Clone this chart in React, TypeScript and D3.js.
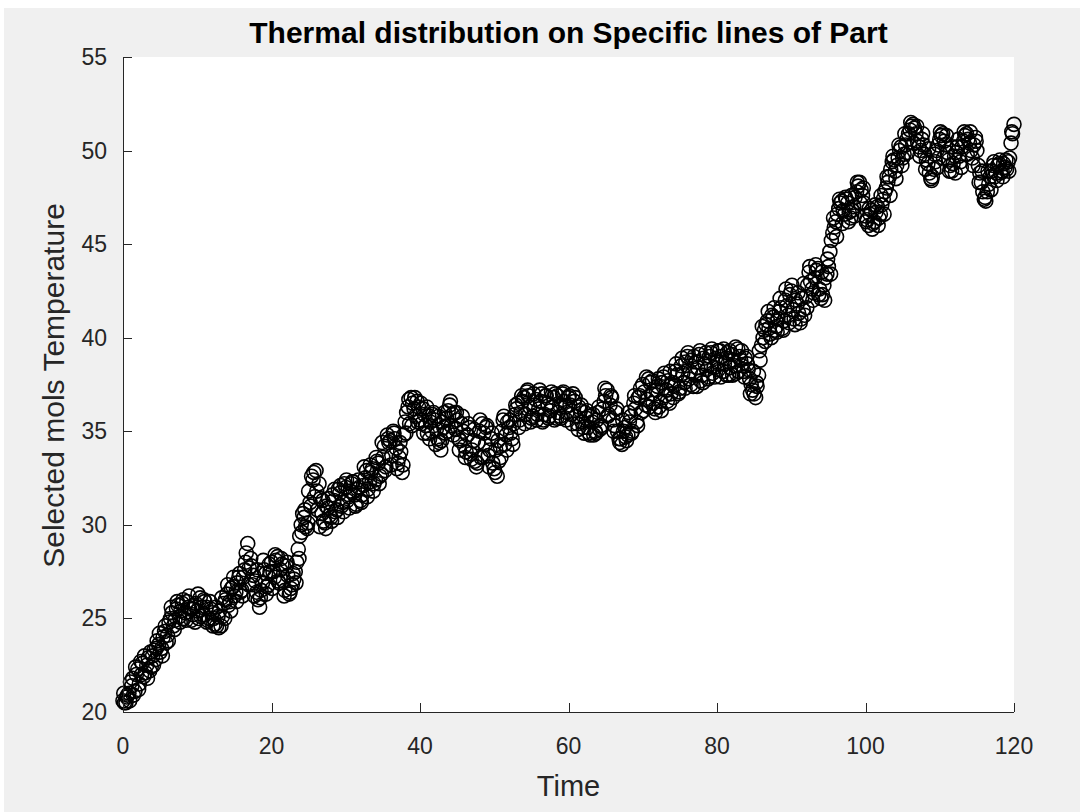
import React from "react";
import * as d3 from "d3";

// Sampling: each line is sampled every 0.4 s, the lines are staggered in time
const timeStep = 0.4;
const lineAStart = 0;
const lineBStart = 0.2;
const lineCStart = 0.1;

// Line A temperatures, grouped by 20-second segments
const lineA0to20 = [
  20.6, 20.5, 21.0, 21.4, 21.1, 22.3, 22.7, 21.9, 22.5, 22.2,
  23.0, 22.8, 23.6, 23.4, 24.3, 24.1, 25.0, 24.6, 25.5, 25.1,
  25.8, 25.3, 25.6, 24.9, 25.7, 25.4, 26.1, 25.2, 25.6, 25.0,
  25.3, 24.7, 25.1, 24.6, 25.8, 26.3, 25.9, 26.7, 26.4, 27.2,
  26.5, 27.6, 29.0, 28.2, 27.3, 26.4, 25.6, 26.9, 27.4, 26.8,
];
const lineA20to40 = [
  28.0, 27.2, 28.3, 27.6, 27.0, 27.8, 26.3, 26.8, 27.5, 28.7,
  30.0, 30.4, 29.8, 31.2, 32.4, 32.9, 32.2, 30.6, 30.1, 30.9,
  30.4, 31.3, 30.8, 31.7, 31.2, 32.0, 31.5, 32.2, 31.6, 31.9,
  31.3, 32.1, 32.9, 32.3, 33.0, 32.4, 33.3, 32.7, 34.2, 34.8,
  34.5, 35.0, 34.1, 33.6, 32.8, 35.5, 36.3, 36.8, 36.2, 36.6,
];
const lineA40to60 = [
  35.6, 36.2, 35.3, 35.8, 35.0, 35.6, 34.6, 34.0, 35.2, 35.7,
  36.4, 35.9, 35.1, 34.6, 35.4, 34.2, 34.8, 33.8, 34.5, 33.1,
  35.0, 35.4, 34.3, 33.7, 34.6, 33.0, 32.6, 34.2, 35.6, 34.8,
  35.2, 34.6, 35.9, 36.5, 36.0, 36.8, 37.1, 36.3, 35.8, 36.7,
  36.2, 37.0, 35.9, 36.5, 36.1, 36.8, 35.7, 36.4, 37.0, 36.3,
];
const lineA60to80 = [
  36.8, 35.9, 36.6, 35.4, 36.1, 35.2, 35.7, 34.9, 35.5, 35.0,
  36.0, 35.3, 36.6, 37.2, 36.4, 35.6, 36.0, 34.6, 34.3, 35.2,
  34.8, 35.8, 36.5, 35.5, 36.9, 37.5, 36.4, 37.8, 37.0, 36.2,
  37.4, 36.6, 37.9, 37.2, 36.5, 37.6, 38.2, 37.0, 38.5, 37.6,
  39.0, 38.2, 37.4, 38.7, 39.1, 38.0, 38.6, 37.8, 39.2, 38.4,
];
const lineA80to100 = [
  38.7, 39.3, 38.2, 38.9, 38.0, 39.1, 38.5, 39.4, 38.8, 38.2,
  39.0, 37.8, 37.2, 36.8, 38.0, 39.6, 40.4, 40.9, 40.2, 41.1,
  40.6, 41.4, 40.5, 42.0, 41.2, 42.5, 41.0, 41.8, 40.8, 41.5,
  42.2, 43.5, 42.6, 43.2, 43.7, 42.1, 42.8, 43.4, 44.6, 45.6,
  46.2, 46.9, 47.3, 46.6, 47.2, 46.4, 47.0, 47.8, 48.3, 47.6,
];
const lineA100to120 = [
  46.5, 46.0, 46.8, 46.2, 47.0, 46.6, 47.4, 48.0, 48.6, 49.4,
  48.9, 49.6, 50.2, 49.8, 50.6, 51.1, 51.4, 50.9, 50.2, 50.6,
  49.8, 49.3, 48.5, 49.0, 50.0, 50.6, 50.9, 50.3, 49.5, 48.9,
  49.7, 50.2, 49.4, 50.5, 50.9, 50.4, 49.6, 50.7, 49.2, 48.3,
  47.4, 47.8, 48.6, 49.2, 48.8, 49.3, 48.9, 49.1, 49.4, 50.4,
  51.4,
];

// Line B temperatures
const lineB0to20 = [
  20.5, 20.9, 21.6, 20.9, 22.0, 21.5, 22.6, 22.1, 22.9, 22.4,
  23.3, 23.8, 23.2, 24.0, 23.7, 24.8, 25.3, 24.9, 25.7, 25.4,
  25.0, 25.9, 25.5, 25.2, 25.8, 25.0, 25.6, 25.9, 24.9, 25.5,
  25.0, 24.6, 25.4, 25.1, 26.0, 25.7, 26.6, 26.2, 26.9, 26.4,
  27.2, 28.5, 27.7, 26.8, 27.0, 26.0, 26.5, 27.6, 26.7, 27.5,
];
const lineB20to40 = [
  27.5, 28.1, 26.9, 27.9, 26.5, 27.3, 26.6, 27.1, 28.0, 29.4,
  30.6, 29.9, 31.8, 32.6, 31.5, 30.8, 31.4, 30.2, 31.0, 30.5,
  31.6, 30.7, 31.9, 31.0, 32.2, 31.3, 31.8, 32.3, 31.1, 32.0,
  31.6, 32.5, 31.9, 32.8, 32.2, 33.4, 32.6, 33.6, 33.1, 34.4,
  33.7, 34.6, 33.3, 33.9, 34.8, 36.0, 35.4, 36.5, 35.8, 36.3,
];
const lineB40to60 = [
  35.4, 35.9, 34.9, 35.5, 36.0, 35.1, 34.4, 35.5, 34.9, 36.1,
  35.3, 36.0, 35.6, 34.5, 35.0, 33.9, 35.2, 34.0, 33.4, 34.4,
  33.6, 34.9, 35.3, 34.0, 33.3, 34.0, 33.4, 35.0, 34.3, 35.5,
  34.9, 35.4, 36.2, 35.6, 36.6, 35.9, 36.9, 35.7, 36.4, 35.9,
  36.6, 35.6, 36.9, 35.8, 36.3, 37.0, 36.0, 35.7, 36.6, 36.0,
];
const lineB60to80 = [
  36.4, 37.0, 35.8, 36.3, 35.5, 36.0, 35.2, 35.8, 34.8, 35.6,
  35.1, 36.2, 36.9, 35.9, 36.8, 35.3, 35.0, 34.6, 35.0, 34.5,
  35.5, 35.0, 36.2, 36.8, 36.0, 37.1, 36.7, 37.6, 36.5, 37.2,
  36.3, 37.6, 36.9, 37.7, 37.0, 37.4, 38.0, 37.3, 38.1, 38.7,
  37.8, 38.8, 38.0, 38.4, 37.7, 38.9, 38.3, 39.0, 38.1, 38.9,
];
const lineB80to100 = [
  38.3, 39.0, 38.6, 39.2, 38.4, 38.8, 38.1, 39.0, 38.5, 38.9,
  38.3, 37.5, 37.0, 37.4, 38.8, 40.0, 40.7, 40.5, 41.2, 40.4,
  41.0, 41.6, 40.9, 41.7, 42.3, 41.5, 42.0, 41.3, 42.1, 41.2,
  42.8, 43.0, 42.4, 43.6, 42.6, 42.3, 43.2, 43.8, 45.2, 45.9,
  46.6, 47.2, 46.8, 47.4, 46.7, 46.8, 47.5, 48.1, 47.9, 47.2,
];
const lineB100to120 = [
  46.3, 46.6, 46.1, 46.7, 46.4, 47.1, 47.8, 48.3, 49.0, 49.5,
  49.2, 50.0, 49.6, 50.3, 50.9, 51.3, 51.2, 50.5, 50.0, 50.3,
  49.5, 48.8, 48.6, 49.4, 50.3, 50.8, 50.5, 49.9, 49.2, 49.3,
  49.9, 49.7, 50.2, 50.8, 50.6, 50.0, 50.3, 50.0, 48.8, 47.8,
  47.3, 48.2, 48.9, 48.6, 49.2, 48.8, 49.3, 49.0, 49.6, 50.9,
];

// Line C temperatures
const lineC0to20 = [
  21.0, 20.8, 20.6, 21.8, 22.4, 21.2, 22.0, 23.0, 21.8, 23.2,
  22.5, 23.4, 24.2, 23.0, 24.6, 23.8, 25.6, 24.4, 25.9, 24.8,
  26.0, 24.9, 26.2, 25.5, 24.8, 26.3, 25.1, 26.0, 24.8, 25.9,
  24.6, 25.6, 24.5, 26.1, 25.0, 26.8, 25.4, 27.2, 25.9, 27.4,
  26.2, 28.0, 26.8, 27.8, 26.2, 27.6, 26.1, 28.1, 26.3, 27.9,
];
const lineC20to40 = [
  26.6, 28.4, 27.0, 28.2, 26.2, 28.0, 26.4, 27.4, 26.9, 28.2,
  29.6, 30.8, 30.1, 31.0, 32.8, 31.8, 29.9, 31.3, 29.8, 31.4,
  30.2, 31.9, 30.4, 32.1, 30.7, 32.4, 30.9, 32.3, 31.0, 32.4,
  31.2, 33.1, 31.5, 33.2, 31.8, 33.6, 32.2, 34.4, 32.9, 34.6,
  33.2, 34.9, 33.0, 34.4, 33.2, 34.9, 36.7, 35.3, 36.8, 35.5,
];
const lineC40to60 = [
  36.5, 34.9, 36.3, 34.6, 35.9, 34.3, 35.8, 34.5, 36.0, 35.0,
  36.6, 34.8, 36.0, 34.0, 35.8, 33.6, 35.4, 33.5, 35.1, 33.3,
  35.6, 33.6, 35.2, 33.1, 34.9, 32.8, 34.5, 33.6, 35.8, 34.0,
  35.6, 34.3, 36.4, 35.2, 36.9, 35.4, 37.2, 35.5, 37.0, 35.6,
  37.2, 35.5, 36.9, 35.7, 37.1, 35.6, 36.9, 35.8, 37.1, 35.6,
];
const lineC60to80 = [
  36.9, 35.4, 36.8, 35.1, 36.4, 34.9, 36.1, 34.8, 35.9, 34.9,
  36.3, 35.2, 37.3, 35.8, 36.9, 35.0, 36.2, 34.4, 35.6, 34.7,
  36.0, 34.9, 36.9, 35.3, 37.3, 36.1, 37.9, 36.3, 37.7, 36.0,
  37.8, 36.1, 38.1, 36.6, 38.2, 36.8, 38.6, 37.1, 38.9, 37.3,
  39.2, 37.5, 39.0, 37.4, 39.3, 37.6, 39.2, 37.9, 39.4, 37.9,
];
const lineC80to100 = [
  39.3, 37.9, 39.4, 38.0, 39.3, 38.0, 39.5, 38.2, 39.3, 37.9,
  38.6, 37.0, 38.2, 37.6, 39.3, 40.6, 39.8, 41.4, 40.0, 41.6,
  40.3, 42.1, 40.4, 42.6, 40.8, 42.8, 40.7, 42.4, 41.0, 42.9,
  41.6, 43.8, 42.0, 43.9, 42.3, 43.5, 42.0, 44.2, 43.4, 46.4,
  45.4, 47.4, 46.1, 47.5, 46.2, 47.6, 46.5, 48.3, 47.2, 48.0,
];
const lineC100to120 = [
  46.2, 46.9, 45.8, 47.1, 46.0, 47.6, 46.6, 48.6, 47.6, 49.7,
  48.5, 50.3, 49.2, 50.9, 49.9, 51.5, 50.4, 51.3, 49.7, 50.9,
  49.0, 50.1, 48.4, 49.8, 49.1, 51.0, 49.6, 50.8, 48.9, 50.2,
  48.8, 50.6, 49.1, 51.0, 49.8, 51.0, 49.2, 50.5, 48.3, 48.9,
  47.5, 48.9, 47.9, 49.4, 48.4, 49.5, 48.6, 49.5, 48.9, 51.0,
];

const xTicks = [0, 20, 40, 60, 80, 100, 120];
const yTicks = [20, 25, 30, 35, 40, 45, 50, 55];

const titleText = "Thermal distribution on Specific lines of Part";
const xLabel = "Time";
const yLabel = "Selected mols Temperature";

const lineA = [
  ...lineA0to20, ...lineA20to40, ...lineA40to60,
  ...lineA60to80, ...lineA80to100, ...lineA100to120,
];
const lineB = [
  ...lineB0to20, ...lineB20to40, ...lineB40to60,
  ...lineB60to80, ...lineB80to100, ...lineB100to120,
];
const lineC = [
  ...lineC0to20, ...lineC20to40, ...lineC40to60,
  ...lineC60to80, ...lineC80to100, ...lineC100to120,
];
const points = [
  ...lineA.map((v, i) => ({ t: lineAStart + i * timeStep, v })),
  ...lineB.map((v, i) => ({ t: lineBStart + i * timeStep, v })),
  ...lineC.map((v, i) => ({ t: lineCStart + i * timeStep, v })),
];

const W = 1080;
const H = 812;
const left = 123;
const right = 1014;
const top = 57;
const bottom = 712;
const axisColor = "#262626";
const font = "'Liberation Sans', Arial, Helvetica, sans-serif";

export default function App() {
  const x = d3.scaleLinear().domain([0, 120]).range([left, right]);
  const y = d3.scaleLinear().domain([20, 55]).range([bottom, top]);
  const tickLen = 9;

  return (
    <svg
      width={W}
      height={H}
      style={{ position: "absolute", left: 0, top: 0, display: "block" }}
    >
      <rect x={0} y={0} width={W} height={H} fill="#ffffff" />
      <rect x={4} y={8} width={W - 4} height={H - 8} fill="#f0f0f0" />
      <rect x={left} y={top} width={right - left} height={bottom - top} fill="#ffffff" />

      {/* markers */}
      <g fill="none" stroke="#000" strokeWidth={1.6}>
        {points.map((p, i) => (
          <circle key={i} cx={x(p.t)} cy={y(p.v)} r={7} />
        ))}
      </g>

      {/* axes */}
      <g stroke={axisColor} strokeWidth={1} fill="none">
        <line x1={left} y1={bottom + 0.5} x2={right} y2={bottom + 0.5} />
        <line x1={left + 0.5} y1={top} x2={left + 0.5} y2={bottom} />
        {xTicks.map((t) => (
          <line
            key={"xt" + t}
            x1={Math.round(x(t)) + 0.5}
            x2={Math.round(x(t)) + 0.5}
            y1={bottom}
            y2={bottom - tickLen}
          />
        ))}
        {yTicks.map((t) => (
          <line
            key={"yt" + t}
            x1={left}
            x2={left + tickLen}
            y1={Math.round(y(t)) + 0.5}
            y2={Math.round(y(t)) + 0.5}
          />
        ))}
      </g>

      <g fill={axisColor} fontFamily={font} fontSize={23}>
        {xTicks.map((t) => (
          <text key={"xl" + t} x={x(t)} y={bottom + 42} textAnchor="middle">
            {t}
          </text>
        ))}
        {yTicks.map((t) => (
          <text key={"yl" + t} x={left - 16} y={y(t) + 8} textAnchor="end">
            {t}
          </text>
        ))}
      </g>

      <text
        x={(left + right) / 2}
        y={43}
        textAnchor="middle"
        fontFamily={font}
        fontWeight="bold"
        fontSize={30}
        fill="#000"
      >
        {titleText}
      </text>
      <text
        x={(left + right) / 2}
        y={796}
        textAnchor="middle"
        fontFamily={font}
        fontSize={29}
        fill={axisColor}
      >
        {xLabel}
      </text>
      <text
        transform={`translate(64, ${(top + bottom) / 2 + 1}) rotate(-90)`}
        textAnchor="middle"
        fontFamily={font}
        fontSize={30}
        fill={axisColor}
      >
        {yLabel}
      </text>
    </svg>
  );
}
